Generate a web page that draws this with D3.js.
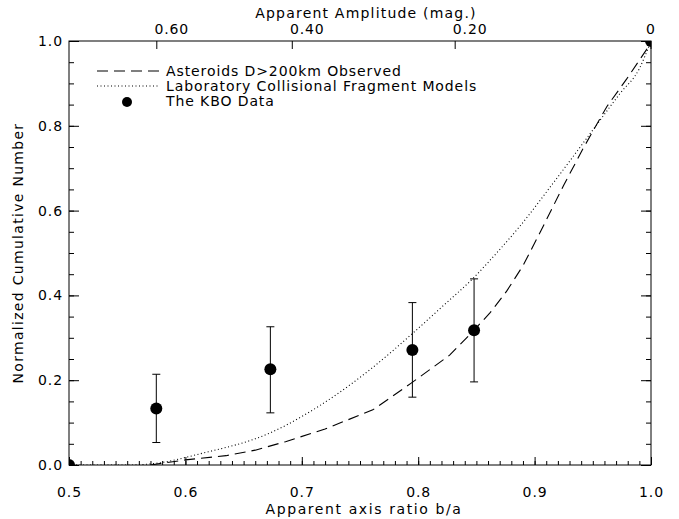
<!DOCTYPE html>
<html>
<head>
<meta charset="utf-8">
<script src="https://cdn.jsdelivr.net/npm/d3@7"></script>
<style>
  body { margin: 0; background: #fff; }
  svg text { font-family: "DejaVu Sans", sans-serif; font-size: 14px; fill: #000; letter-spacing: 0.9px; }
</style>
</head>
<body>
<div id="chart"></div>
<script>
// KBO points (axis ratio b/a, cumulative fraction, error low, error high)
const kboRatio = [0.5, 0.575, 0.673, 0.795, 0.848, 1.0];
const kboCum   = [0.0, 0.133, 0.226, 0.271, 0.318, 1.0];
const kboLow   = [null, 0.053, 0.123, 0.160, 0.196, null];
const kboHigh  = [null, 0.214, 0.326, 0.383, 0.439, null];

// asteroids D>200km observed (dashed)
const astRatio = [0.57, 0.60, 0.635, 0.66, 0.686, 0.72, 0.761, 0.794, 0.827, 0.848, 0.862, 0.876, 0.89, 0.905, 0.925, 0.942, 0.962, 0.979, 0.996, 1.0];
const astCum   = [0.0, 0.012, 0.022, 0.035, 0.055, 0.085, 0.13, 0.193, 0.259, 0.318, 0.36, 0.41, 0.47, 0.55, 0.66, 0.748, 0.845, 0.91, 0.979, 1.0];

// laboratory collisional fragment models (dotted)
const labRatio = [0.5, 0.526, 0.55, 0.575, 0.612, 0.673, 0.727, 0.76, 0.795, 0.82, 0.847, 0.869, 0.887, 0.916, 0.95, 0.973, 0.99, 1.0];
const labCum   = [0.0, 0.0, 0.0, 0.004, 0.026, 0.076, 0.161, 0.228, 0.31, 0.372, 0.44, 0.505, 0.562, 0.665, 0.79, 0.875, 0.935, 1.0];

const xTicks = [0.5, 0.6, 0.7, 0.8, 0.9, 1.0];
const yTicks = [0.0, 0.2, 0.4, 0.6, 0.8, 1.0];
const magTicks = [0.6, 0.4, 0.2, 0];
const magLabels = ["0.60", "0.40", "0.20", "0"];

const legendLabels = ["Asteroids D>200km Observed", "Laboratory Collisional Fragment Models", "The KBO Data"];

const width = 679, height = 519;
const x0 = 69, x1 = 651, y0 = 465, y1 = 41;

const svg = d3.select("#chart").append("svg")
    .attr("width", width)
    .attr("height", height);

const x = d3.scaleLinear().domain([0.5, 1.0]).range([x0, x1]);
const y = d3.scaleLinear().domain([0, 1]).range([y0, y1]);

svg.append("defs").append("clipPath").attr("id", "plot")
    .append("rect")
    .attr("x", x0).attr("y", y1)
    .attr("width", x1 - x0).attr("height", y0 - y1);

// bottom axis, minor ticks every 0.01
svg.append("g")
    .attr("transform", `translate(0,${y0})`)
    .call(d3.axisTop(x).tickValues(d3.range(0.5, 1.0001, 0.01)).tickSize(4).tickFormat(""))
    .call(g => g.select(".domain").remove());
svg.append("g")
    .attr("transform", `translate(0,${y0})`)
    .call(d3.axisTop(x).tickValues(xTicks).tickSize(8).tickFormat(""))
    .call(g => g.select(".domain").remove());
svg.selectAll(".xlab")
    .data(xTicks)
    .enter()
    .append("text")
    .attr("x", d => x(d) + 0.5)
    .attr("y", y0 + 32)
    .attr("text-anchor", "middle")
    .text(d3.format(".1f"));

// left and right axes, minor ticks every 0.05
[[x0, 1], [x1, -1]].forEach(([px, dir]) => {
    const ax = () => dir > 0 ? d3.axisRight(y) : d3.axisLeft(y);
    svg.append("g")
        .attr("transform", `translate(${px},0)`)
        .call(ax().tickValues(d3.range(0, 1.0001, 0.05)).tickSize(5).tickFormat(""))
        .call(g => g.select(".domain").remove());
    svg.append("g")
        .attr("transform", `translate(${px},0)`)
        .call(ax().tickValues(yTicks).tickSize(10).tickFormat(""))
        .call(g => g.select(".domain").remove());
});
svg.selectAll(".ylab")
    .data(yTicks)
    .enter()
    .append("text")
    .attr("x", x0 - 6)
    .attr("y", d => y(d) + 5)
    .attr("text-anchor", "end")
    .text(d3.format(".1f"));

// top axis: amplitude in magnitudes, b/a = 10^(-0.4 m)
const magToX = m => x(Math.pow(10, -0.4 * m));
svg.selectAll(".mtick")
    .data(magTicks)
    .enter()
    .append("line")
    .attr("x1", magToX).attr("x2", magToX)
    .attr("y1", y1).attr("y2", y1 + 8)
    .attr("stroke", "#000");
svg.selectAll(".mlab")
    .data(magTicks)
    .enter()
    .append("text")
    .attr("x", (d, i) => i === 3 ? magToX(d) : magToX(d) + 15)
    .attr("y", y1 - 7)
    .attr("text-anchor", "middle")
    .text((d, i) => magLabels[i]);

// frame
svg.append("rect")
    .attr("x", x0).attr("y", y1)
    .attr("width", x1 - x0).attr("height", y0 - y1)
    .attr("fill", "none")
    .attr("stroke", "#000");

// axis titles
svg.append("text")
    .attr("x", 364)
    .attr("y", y0 + 49)
    .attr("text-anchor", "middle")
    .style("letter-spacing", "1.6px")
    .text("Apparent axis ratio b/a");
svg.append("text")
    .attr("x", 366)
    .attr("y", 18)
    .attr("text-anchor", "middle")
    .style("letter-spacing", "1.2px")
    .text("Apparent Amplitude (mag.)");
svg.append("text")
    .attr("transform", `translate(23,${(y0 + y1) / 2}) rotate(-90)`)
    .attr("text-anchor", "middle")
    .style("letter-spacing", "1.3px")
    .text("Normalized Cumulative Number");

// curves
const plot = svg.append("g").attr("clip-path", "url(#plot)");

const line = d3.line()
    .x(d => x(d[0]))
    .y(d => y(d[1]));

plot.append("path")
    .datum(d3.zip(astRatio, astCum))
    .attr("fill", "none")
    .attr("stroke", "#000")
    .attr("stroke-width", 1.1)
    .attr("stroke-dasharray", "11,6")
    .attr("d", line);

plot.append("path")
    .datum(d3.zip(labRatio, labCum))
    .attr("fill", "none")
    .attr("stroke", "#000")
    .attr("stroke-width", 1.1)
    .attr("stroke-dasharray", "1,2.5")
    .attr("d", line.curve(d3.curveMonotoneX));

// error bars
const kbo = d3.zip(kboRatio, kboCum, kboLow, kboHigh);
const err = plot.selectAll(".err")
    .data(kbo.filter(d => d[2] !== null))
    .enter()
    .append("g")
    .attr("stroke", "#000")
    .attr("stroke-width", 1);
err.append("line")
    .attr("x1", d => x(d[0])).attr("x2", d => x(d[0]))
    .attr("y1", d => y(d[2])).attr("y2", d => y(d[3]));
err.append("line")
    .attr("x1", d => x(d[0]) - 4).attr("x2", d => x(d[0]) + 4)
    .attr("y1", d => y(d[2])).attr("y2", d => y(d[2]));
err.append("line")
    .attr("x1", d => x(d[0]) - 4).attr("x2", d => x(d[0]) + 4)
    .attr("y1", d => y(d[3])).attr("y2", d => y(d[3]));

plot.selectAll(".dot")
    .data(kbo)
    .enter()
    .append("circle")
    .attr("cx", d => x(d[0]))
    .attr("cy", d => y(d[1]))
    .attr("r", 6)
    .attr("fill", "#000");

// legend
const legend = svg.append("g");
legendLabels.forEach((t, i) => {
    const ly = 71 + i * 15;
    if (i < 2) {
        legend.append("line")
            .attr("x1", 97).attr("x2", 160)
            .attr("y1", ly).attr("y2", ly)
            .attr("stroke", "#000")
            .attr("stroke-width", 1.1)
            .attr("stroke-dasharray", i === 0 ? "11,6" : "1,2.5");
    } else {
        legend.append("circle")
            .attr("cx", 127).attr("cy", ly + 1)
            .attr("r", 5)
            .attr("fill", "#000");
    }
    legend.append("text")
        .attr("x", 166)
        .attr("y", ly + 5)
        .text(t);
});
</script>
</body>
</html>
